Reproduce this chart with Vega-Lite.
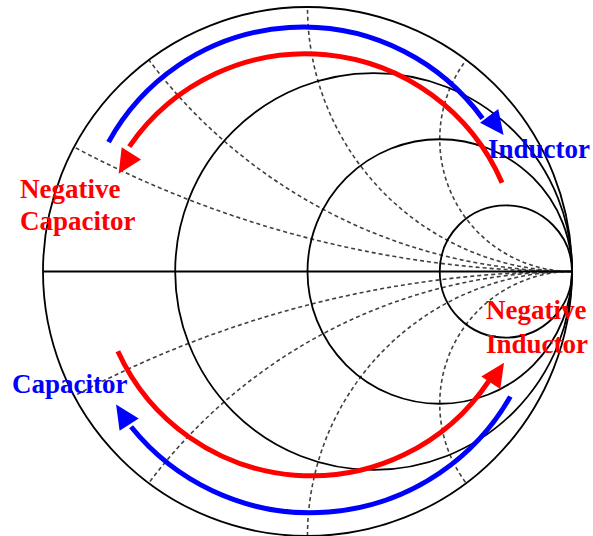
{
  "$schema": "https://vega.github.io/schema/vega-lite/v6.json",
  "width": 593,
  "height": 536,
  "autosize": "none",
  "padding": 0,
  "background": "white",
  "config": {"view": {"stroke": null}},
  "datasets": {
    "react": [
      {"x": 1, "y": 4, "r": 4},
      {"x": 1, "y": 2, "r": 2},
      {"x": 1, "y": 1, "r": 1},
      {"x": 1, "y": 0.5, "r": 0.5},
      {"x": 1, "y": -4, "r": 4},
      {"x": 1, "y": -2, "r": 2},
      {"x": 1, "y": -1, "r": 1},
      {"x": 1, "y": -0.5, "r": 0.5}
    ],
    "mask": [{"x": 0, "y": 0, "ro": 3, "ri": 1}],
    "resist": [
      {"x": 0, "y": 0, "r": 1},
      {"x": 0.25, "y": 0, "r": 0.75},
      {"x": 0.5, "y": 0, "r": 0.5},
      {"x": 0.75, "y": 0, "r": 0.25}
    ],
    "axisline": [{"x": -1, "x2": 1, "y": 0}],
    "arcs": [
      {"x": -0.017, "y": 0.085, "r": 0.839, "t1": -61.2, "t2": 54, "element": "real"},
      {"x": -0.007, "y": 0.014, "r": 0.809, "t1": -55.5, "t2": 66.6, "element": "negative"},
      {"x": 0.011, "y": -0.042, "r": 0.87, "t1": 119.7, "t2": 231.2, "element": "real"},
      {"x": 0.0155, "y": 0.0325, "r": 0.805, "t1": 123.7, "t2": 245.5, "element": "negative"}
    ],
    "heads": [
      {"x": 0.714, "y": 0.552, "angle": 143, "element": "real"},
      {"x": -0.69, "y": 0.408, "angle": 212, "element": "negative"},
      {"x": -0.699, "y": -0.541, "angle": 327, "element": "real"},
      {"x": 0.718, "y": -0.383, "angle": 33.5, "element": "negative"}
    ],
    "labels": [
      {"x": 0.6824, "y": 0.4291, "text": "Inductor", "element": "real"},
      {"x": -1.087, "y": 0.2779, "text": "Negative", "element": "negative"},
      {"x": -1.087, "y": 0.1569, "text": "Capacitor", "element": "negative"},
      {"x": -1.1172, "y": -0.4582, "text": "Capacitor", "element": "real"},
      {"x": 0.6749, "y": -0.1796, "text": "Negative", "element": "negative"},
      {"x": 0.6749, "y": -0.3081, "text": "Inductor", "element": "negative"}
    ]
  },
  "encoding": {
    "x": {"field": "x", "type": "quantitative", "scale": {"domain": [-1.16257, 1.0794], "nice": false, "zero": false}, "axis": null},
    "y": {"field": "y", "type": "quantitative", "scale": {"domain": [-1.0, 1.02647], "nice": false, "zero": false}, "axis": null}
  },
  "layer": [
    {
      "data": {"name": "react"},
      "mark": {"type": "arc", "filled": false, "stroke": "#404040", "strokeWidth": 1.6, "strokeDash": [4, 3], "theta": 0, "theta2": 6.2832},
      "encoding": {
        "radius": {"field": "r", "type": "quantitative", "stack": null, "scale": {"type": "linear", "domain": [0, 1], "range": [0, 264.5], "zero": true, "nice": false}}
      }
    },
    {
      "data": {"name": "mask"},
      "mark": {"type": "arc", "fill": "white", "stroke": null, "theta": 0, "theta2": 6.2832},
      "encoding": {
        "radius": {"field": "ro", "type": "quantitative", "stack": null, "scale": {"type": "linear", "domain": [0, 1], "range": [0, 264.5], "zero": true, "nice": false}},
        "radius2": {"field": "ri"}
      }
    },
    {
      "data": {"name": "resist"},
      "mark": {"type": "arc", "filled": false, "stroke": "black", "strokeWidth": 1.8, "theta": 0, "theta2": 6.2832},
      "encoding": {
        "radius": {"field": "r", "type": "quantitative", "stack": null, "scale": {"type": "linear", "domain": [0, 1], "range": [0, 264.5], "zero": true, "nice": false}}
      }
    },
    {
      "data": {"name": "axisline"},
      "mark": {"type": "rule", "color": "black", "strokeWidth": 2.2},
      "encoding": {"x2": {"field": "x2"}}
    },
    {
      "data": {"name": "arcs"},
      "mark": {"type": "arc", "filled": false, "strokeWidth": 5},
      "encoding": {
        "radius": {"field": "r", "type": "quantitative", "stack": null, "scale": {"type": "linear", "domain": [0, 1], "range": [0, 264.5], "zero": true, "nice": false}},
        "radius2": {"field": "r"},
        "theta": {"field": "t1", "type": "quantitative", "stack": null, "scale": {"type": "linear", "domain": [0, 360], "range": [0, 6.283185307179586], "zero": false, "nice": false}},
        "theta2": {"field": "t2"},
        "color": {"field": "element", "type": "nominal", "scale": {"domain": ["real", "negative"], "range": ["#0000ff", "#ff0000"]}, "legend": null}
      }
    },
    {
      "data": {"name": "heads"},
      "mark": {"type": "point", "filled": true, "opacity": 1, "shape": "M0,-1L0.95,1L-0.95,1Z", "size": 576, "strokeWidth": 0},
      "encoding": {
        "angle": {"field": "angle", "type": "quantitative", "scale": null},
        "color": {"field": "element", "type": "nominal", "scale": {"domain": ["real", "negative"], "range": ["#0000ff", "#ff0000"]}, "legend": null}
      }
    },
    {
      "data": {"name": "labels"},
      "mark": {"type": "text", "font": "Liberation Serif", "fontWeight": "bold", "fontSize": 27, "align": "left", "baseline": "alphabetic"},
      "encoding": {
        "text": {"field": "text"},
        "color": {"field": "element", "type": "nominal", "scale": {"domain": ["real", "negative"], "range": ["#0000ff", "#ff0000"]}, "legend": null}
      }
    }
  ]
}
